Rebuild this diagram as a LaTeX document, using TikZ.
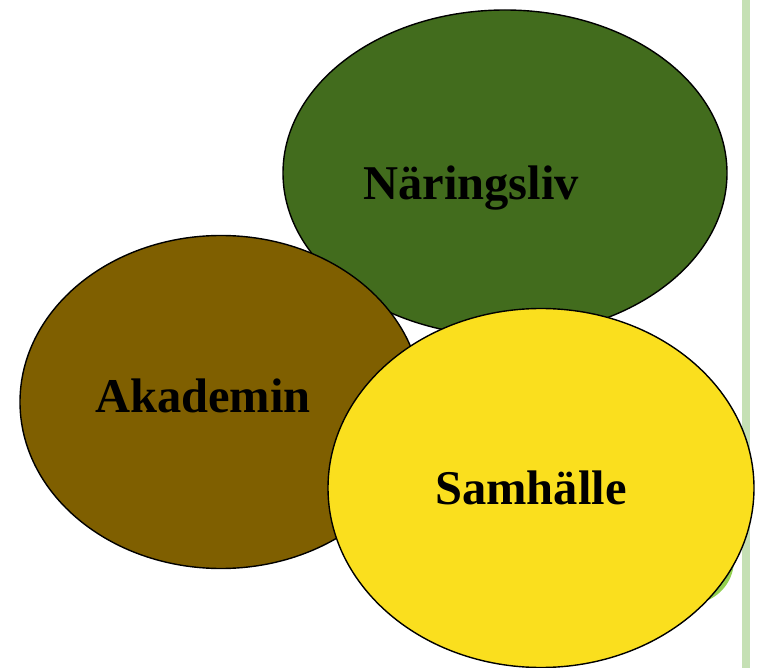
\documentclass[tikz,border=0pt]{standalone}
\usepackage{fontspec}
\setmainfont{Liberation Serif}
\usetikzlibrary{shapes.geometric, positioning}
\definecolor{naringgreen}{HTML}{426C1D}
\definecolor{akabrown}{HTML}{7F5F00}
\definecolor{samyellow}{HTML}{FADF1E}
\definecolor{barGreen}{HTML}{C5E0B4}
\definecolor{limeGreen}{HTML}{92D050}
\tikzstyle{sector} = [ellipse, draw=black, line width=1.4pt, inner sep=0pt]
\tikzstyle{title} = [font=\bfseries\fontsize{48.5}{50}\selectfont, text=black, inner sep=0pt]

\begin{document}
\begin{tikzpicture}[x=1pt, y=-1pt]
    \useasboundingbox (0,0) rectangle (758,668);
    \fill [barGreen] (742,0) rectangle (750,668);
    \node (naring) [sector, fill=naringgreen, minimum width=444pt, minimum height=326pt] at (505,173) {};
    \node (akademi) [sector, fill=akabrown, minimum width=402pt, minimum height=333pt] at (221,402) {};
    \node (limebit) [circle, fill=limeGreen, minimum size=88pt, inner sep=0pt] at (690,560) {};
    \node (samhalle) [sector, fill=samyellow, minimum width=426pt, minimum height=359pt] at (541,488) {};
    \node (naringtxt) [title] at ([xshift=-34pt, yshift=-15pt]naring.center) {Näringsliv};
    \node (akademitxt) [title] at ([xshift=-18pt, yshift=6pt]akademi.center) {Akademin};
    \node (samhalletxt) [title] at ([xshift=-10pt, yshift=0pt]samhalle.center) {Samhälle};
\end{tikzpicture}
\end{document}
